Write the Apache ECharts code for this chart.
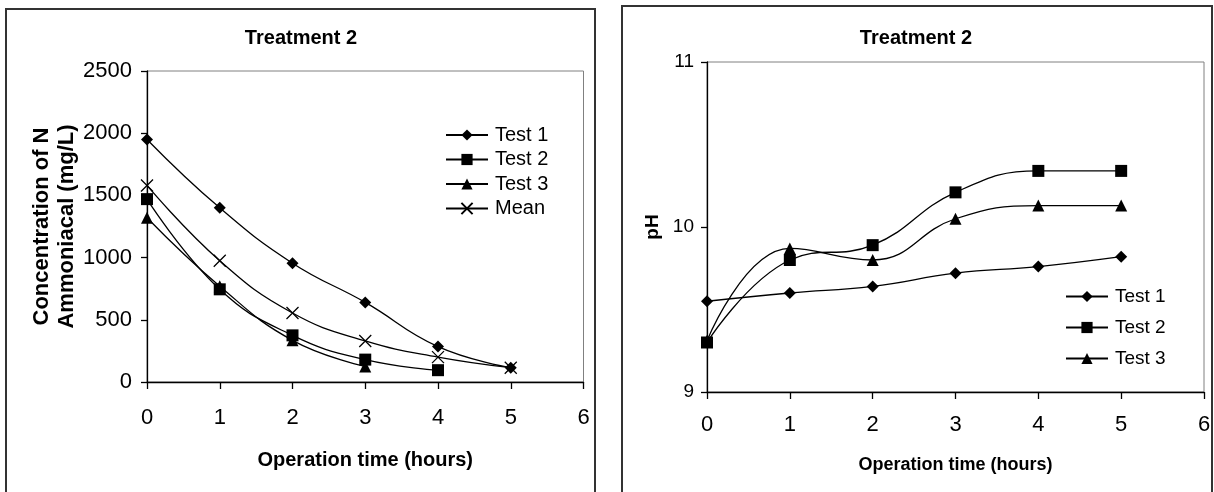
<!DOCTYPE html>
<html>
<head>
<meta charset="utf-8">
<script src="https://cdn.jsdelivr.net/npm/echarts@6/dist/echarts.min.js"></script>
<style>
  html, body { margin: 0; padding: 0; background: #fff; }
  #chart { width: 1214px; height: 492px; }
</style>
</head>
<body>
<div id="chart"></div>
<script>
// operation time (hours)
const hours = [0, 1, 2, 3, 4, 5]

// Treatment 2 - ammoniacal N (mg/L)
const nTest1 = [1950, 1400, 955, 640, 285, 115]
const nTest2 = [1470, 745, 375, 180, 95]
const nTest3 = [1320, 770, 335, 125]
const nMean = [1580, 975, 555, 330, 200, 115]

// Treatment 2 - pH
const phTest1 = [9.55, 9.60, 9.64, 9.72, 9.76, 9.82]
const phTest2 = [9.30, 9.80, 9.89, 10.21, 10.34, 10.34]
const phTest3 = [9.31, 9.87, 9.80, 10.05, 10.13, 10.13]

const FONT = '"Liberation Sans", Arial, sans-serif'
const crossPath = 'path://M0,0L10,10M10,0L0,10'

const chart = echarts.init(document.getElementById('chart'))

//把数组拼成 [x, y]
function pairs(vals){
  return vals.map((v, i) => [hours[i], v])
}

function lineSeries(name, vals, symbol, size, idx){
  return {
    name: name,
    type: 'line',
    xAxisIndex: idx,
    yAxisIndex: idx,
    data: pairs(vals),
    smooth: 0.45,
    symbol: symbol,
    symbolSize: size,
    lineStyle: { color: '#000', width: 1.3 },
    itemStyle: symbol === crossPath
      ? { color: '#000', borderColor: '#000', borderWidth: 1.3 }
      : { color: '#000', borderWidth: 0 }
  }
}

function xAxisOpt(idx, labelSize, nameSize, nameGap, margin){
  return {
    type: 'value',
    gridIndex: idx,
    min: 0,
    max: 6,
    interval: 1,
    name: 'Operation time (hours)',
    nameLocation: 'middle',
    nameGap: nameGap,
    nameTextStyle: { color: '#000', fontSize: nameSize, fontWeight: 'bold', fontFamily: FONT },
    axisLine: { show: true, lineStyle: { color: '#000', width: 1.3 } },
    axisTick: { show: true, length: 7, lineStyle: { color: '#000', width: 1.3 } },
    axisLabel: { color: '#000', fontSize: labelSize, fontFamily: FONT, margin: margin },
    splitLine: { show: false }
  }
}

const option = {
  animation: false,
  backgroundColor: '#fff',
  textStyle: { fontFamily: FONT, color: '#000' },
  graphic: [
    { type: 'rect', shape: { x: 6, y: 9, width: 589, height: 500 }, style: { fill: 'none', stroke: '#333', lineWidth: 2 } },
    { type: 'rect', shape: { x: 622, y: 6, width: 590, height: 500 }, style: { fill: 'none', stroke: '#333', lineWidth: 2 } },
    { type: 'text', x: 301, y: 38, style: { text: 'Treatment 2', fill: '#000', font: 'bold 20px ' + FONT, textAlign: 'center', textVerticalAlign: 'middle' } },
    { type: 'text', x: 916, y: 38, style: { text: 'Treatment 2', fill: '#000', font: 'bold 20px ' + FONT, textAlign: 'center', textVerticalAlign: 'middle' } }
  ],
  legend: [
    {
      data: ['Test 1', 'Test 2', 'Test 3', 'Mean'],
      orient: 'vertical',
      left: 445,
      top: 125,
      padding: 0,
      itemWidth: 42,
      itemHeight: 14,
      itemGap: 4.5,
      textStyle: { fontSize: 20, lineHeight: 20, color: '#000', fontFamily: FONT, padding: [0, 0, 0, 2] }
    },
    {
      data: ['Test 1', 'Test 2', 'Test 3'],
      orient: 'vertical',
      left: 1065,
      top: 287,
      padding: 0,
      itemWidth: 42,
      itemHeight: 14,
      itemGap: 12,
      textStyle: { fontSize: 19, lineHeight: 18, color: '#000', fontFamily: FONT, padding: [0, 0, 0, 2] }
    }
  ],
  grid: [
    { left: 147, top: 71, width: 436.5, height: 311, show: true, borderColor: '#808080', borderWidth: 1, backgroundColor: '#fff' },
    { left: 707, top: 62, width: 497, height: 330, show: true, borderColor: '#808080', borderWidth: 1, backgroundColor: '#fff' }
  ],
  xAxis: [
    xAxisOpt(0, 22, 20, 68, 25),
    xAxisOpt(1, 22, 18, 64, 22)
  ],
  yAxis: [
    {
      type: 'value',
      gridIndex: 0,
      min: 0,
      max: 2500,
      interval: 500,
      name: 'Concentration of N\nAmmoniacal (mg/L)',
      nameLocation: 'middle',
      nameRotate: 90,
      nameGap: 66,
      nameTextStyle: { color: '#000', fontSize: 22, lineHeight: 25, fontWeight: 'bold', fontFamily: FONT },
      axisLine: { show: true, lineStyle: { color: '#000', width: 1.3 } },
      axisTick: { show: true, length: 6, lineStyle: { color: '#000', width: 1.3 } },
      axisLabel: { color: '#000', fontSize: 22, fontFamily: FONT, margin: 15, formatter: (v) => String(v) },
      splitLine: { show: false }
    },
    {
      type: 'value',
      gridIndex: 1,
      min: 9,
      max: 11,
      interval: 1,
      name: 'pH',
      nameLocation: 'middle',
      nameRotate: 90,
      nameGap: 45,
      nameTextStyle: { color: '#000', fontSize: 19, fontWeight: 'bold', fontFamily: FONT },
      axisLine: { show: true, lineStyle: { color: '#000', width: 1.3 } },
      axisTick: { show: true, length: 6, lineStyle: { color: '#000', width: 1.3 } },
      axisLabel: { color: '#000', fontSize: 19, fontFamily: FONT, margin: 13 },
      splitLine: { show: false }
    }
  ],
  series: [
    lineSeries('Test 1', nTest1, 'diamond', 12, 0),
    lineSeries('Test 2', nTest2, 'rect', 12, 0),
    lineSeries('Test 3', nTest3, 'triangle', 12, 0),
    lineSeries('Mean', nMean, crossPath, 12, 0),
    lineSeries('Test 1', phTest1, 'diamond', 12, 1),
    lineSeries('Test 2', phTest2, 'rect', 12, 1),
    lineSeries('Test 3', phTest3, 'triangle', 12, 1)
  ]
}

chart.setOption(option)
</script>
</body>
</html>
